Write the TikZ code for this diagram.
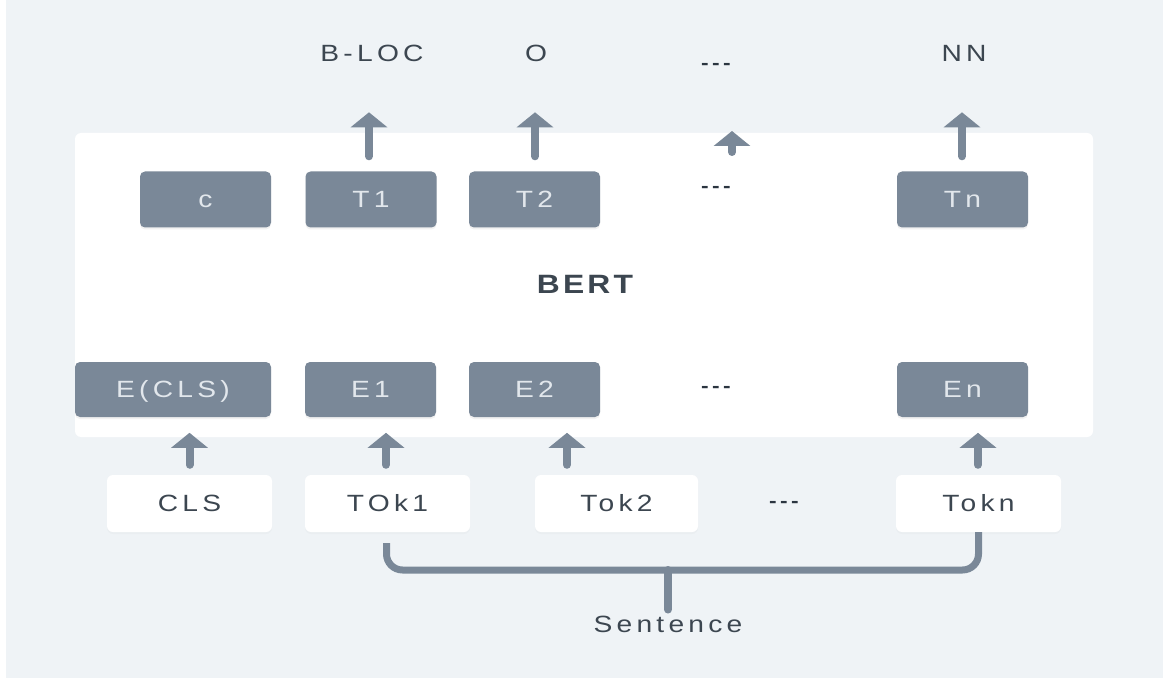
\documentclass[tikz,border=0pt]{standalone}
\usepackage{fontspec}
\setmainfont{Liberation Sans}
\newfontfamily\lsfont{Liberation Sans}[LetterSpace=18,FakeStretch=1.2]
\newfontfamily\bertfont{Liberation Sans}[LetterSpace=12,FakeStretch=1.2]
\usetikzlibrary{arrows.meta,shadows}
\definecolor{bg}{HTML}{EFF3F6}
\definecolor{boxc}{HTML}{7A8898}
\definecolor{arrc}{HTML}{7A8898}
\definecolor{txt}{HTML}{3C4650}
\definecolor{dotc}{HTML}{2B3540}
\definecolor{boxtxt}{HTML}{E2E7EC}
\begin{document}
\begin{tikzpicture}[x=1pt,y=-1pt,
  txtfont/.style={font=\lsfont\fontsize{23.5}{27}\selectfont, text height=16.5pt, text depth=0pt},
  lbl/.style={txtfont, text=txt, inner sep=0pt},
  dots/.style={font=\lsfont\bfseries\fontsize{19}{23}\selectfont, text=dotc, inner sep=0pt},
  darkbox/.style={txtfont, fill=boxc, rounded corners=5pt, minimum width=131pt, minimum height=56pt,
    inner sep=0pt, text=boxtxt, drop shadow={opacity=0.10, shadow xshift=0pt, shadow yshift=-2pt}},
  tokbox/.style={txtfont, fill=white, rounded corners=6pt, minimum width=165pt, minimum height=57pt,
    inner sep=0pt, text=txt, drop shadow={opacity=0.04, shadow xshift=0pt, shadow yshift=-2pt}},
  uparr/.style={draw=arrc, line width=8pt, line cap=round, -{Triangle[width=36pt,length=15pt]}},
  brace/.style={draw=arrc, line width=7pt, rounded corners=16pt},
  stemline/.style={draw=arrc, line width=8pt, line cap=round}
]
\useasboundingbox (0,0) rectangle (1163,682);
\fill[white] (0,0) rectangle (1163,682);
\fill[bg] (6,0) rectangle (1163,678);

% BERT panel
\node (panel) [fill=white, rounded corners=6pt, minimum width=1018pt, minimum height=304pt, inner sep=0pt] at (584,285) {};
\node (bert) [font=\bertfont\bfseries\fontsize{26.5}{30}\selectfont, text=txt, inner sep=0pt] at (585,284) {BERT};

% output labels
\node (bloc) [lbl] at (372,53) {B-LOC};
\node (lo) [lbl] at (536,53) {O};
\node (dtop) [dots] at (716,66) {-{}-{}-};
\node (nn) [lbl] at (964,53) {NN};

% top row
\node (c)  [darkbox] at (205.5,199.5) {c};
\node (T1) [darkbox] at (371,199.5) {T1};
\node (T2) [darkbox] at (534.5,199.5) {T2};
\node (dmid) [dots] at (716,189) {-{}-{}-};
\node (Tn) [darkbox] at (962.5,199.5) {Tn};

% embedding row
\node (Ecls) [darkbox, minimum width=196pt, minimum height=55pt] at (173,389.5) {E(CLS)};
\node (E1) [darkbox, minimum height=55pt] at (370.5,389.5) {E1};
\node (E2) [darkbox, minimum height=55pt] at (534.5,389.5) {E2};
\node (dE) [dots] at (716,389) {-{}-{}-};
\node (En) [darkbox, minimum height=55pt] at (962.5,389.5) {En};

% tokens
\node (CLS)  [tokbox] at (189.5,503.5) {CLS};
\node (Tok1) [tokbox] at (387.5,503.5) {TOk1};
\node (Tok2) [tokbox, minimum width=163pt] at (616.5,503.5) {Tok2};
\node (dT) [dots] at (784,504) {-{}-{}-};
\node (Tokn) [tokbox] at (978.5,503.5) {Tokn};

% sentence
\node (sent) [lbl] at (668,624) {Sentence};

% arrows: outputs
\draw[uparr] ([xshift=-2pt,yshift=15pt]T1.north) -- ++(0,-44);
\draw[uparr] ([xshift=0.5pt,yshift=15pt]T2.north) -- ++(0,-44);
\draw[uparr] ([xshift=-0.5pt,yshift=15pt]Tn.north) -- ++(0,-44);
\coordinate (smallarr) at (732,152);
\draw[uparr] (smallarr) -- ++(0,-21);

% arrows: inputs
\draw[uparr] ([yshift=10pt]CLS.north) -- ++(0,-32);
\draw[uparr] ([xshift=-1.5pt,yshift=10pt]Tok1.north) -- ++(0,-32);
\draw[uparr] ([xshift=-49.5pt,yshift=10pt]Tok2.north) -- ++(0,-32);
\draw[uparr] ([xshift=-0.5pt,yshift=10pt]Tokn.north) -- ++(0,-32);

% sentence brace
\coordinate (brR) at (978.5,570);
\draw[brace] ([xshift=-1pt,yshift=-11pt]Tok1.south) |- (brR) -- (Tokn.south);
\coordinate (brM) at (668,570);
\draw[stemline] (brM) -- ([yshift=6pt]sent.north);
\end{tikzpicture}
\end{document}
